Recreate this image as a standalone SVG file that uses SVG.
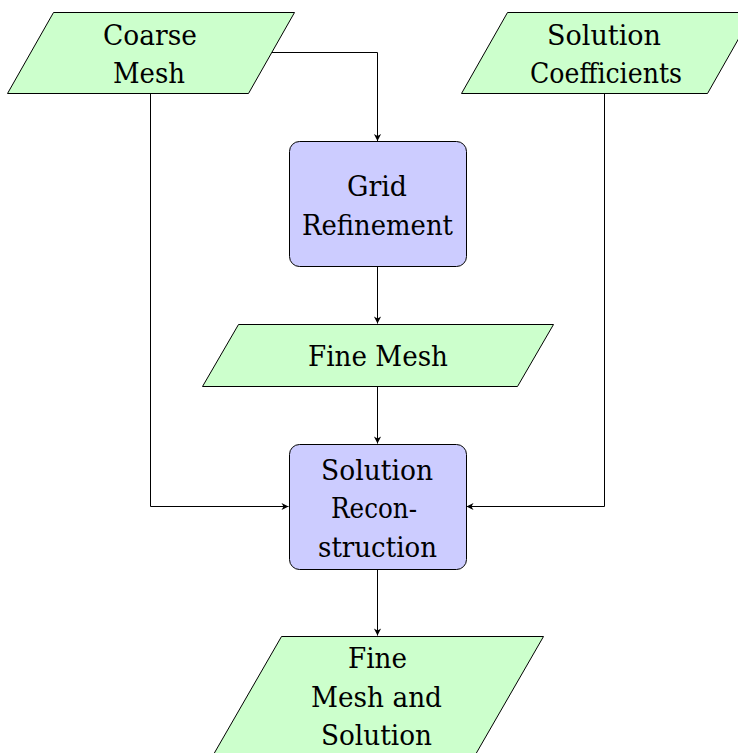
<svg xmlns="http://www.w3.org/2000/svg" width="738" height="753" viewBox="0 0 738 753">
  <style>
    .io { fill: #ccffcc; stroke: #000; stroke-width: 1; stroke-linejoin: miter; }
    .proc { fill: #ccccff; stroke: #000; stroke-width: 1; }
    .lbl { font-family: "DejaVu Serif", serif; font-size: 27px; fill: #000; text-anchor: middle; }
    .edge { fill: none; stroke: #000; stroke-width: 1; marker-end: url(#tip); }
  </style>
  <defs>
    <marker id="tip" markerUnits="userSpaceOnUse" markerWidth="10" markerHeight="10" viewBox="-8 -5 10 10" refX="0" refY="0" orient="auto">
      <path d="M0,0 L-7,-3.6 L-5,0 L-7,3.6 Z" fill="#000"/>
    </marker>
  </defs>
  <rect width="738" height="753" fill="#fff"/>

  <!-- connectors -->
  <g id="edges">
    <path class="edge" d="M271.5,52.5 H377.5 V141"/>
    <path class="edge" d="M377.5,267 V323.5"/>
    <path class="edge" d="M377.5,386 V443.5"/>
    <path class="edge" d="M150.5,93 V506.5 H288.5"/>
    <path class="edge" d="M604.5,93 V506.5 H466.5"/>
    <path class="edge" d="M377.5,569 V635.5"/>
  </g>

  <!-- input: coarse mesh -->
  <g id="coarse-mesh">
    <polygon class="io" points="53.5,12.5 294.5,12.5 248.5,93.5 7.5,93.5"/>
    <text class="lbl" x="150" y="45" textLength="94" lengthAdjust="spacingAndGlyphs">Coarse</text>
    <text class="lbl" x="149" y="83" textLength="72" lengthAdjust="spacingAndGlyphs">Mesh</text>
  </g>

  <!-- input: solution coefficients -->
  <g id="solution-coefficients">
    <polygon class="io" points="507.5,12.5 753.5,12.5 707.5,93.5 461.5,93.5"/>
    <text class="lbl" x="604" y="45" textLength="114" lengthAdjust="spacingAndGlyphs">Solution</text>
    <text class="lbl" x="606" y="83" textLength="152" lengthAdjust="spacingAndGlyphs">Coefficients</text>
  </g>

  <!-- process: grid refinement -->
  <g id="grid-refinement">
    <rect class="proc" x="289.5" y="141.5" width="177" height="125" rx="10" ry="10"/>
    <text class="lbl" x="377" y="196" textLength="60" lengthAdjust="spacingAndGlyphs">Grid</text>
    <text class="lbl" x="377.5" y="235" textLength="151" lengthAdjust="spacingAndGlyphs">Refinement</text>
  </g>

  <!-- data: fine mesh -->
  <g id="fine-mesh">
    <polygon class="io" points="238.5,324.5 553.5,324.5 517.5,386.5 202.5,386.5"/>
    <text class="lbl" x="378" y="366" textLength="140" lengthAdjust="spacingAndGlyphs">Fine Mesh</text>
  </g>

  <!-- process: solution reconstruction -->
  <g id="solution-reconstruction">
    <rect class="proc" x="289.5" y="444.5" width="177" height="125" rx="10" ry="10"/>
    <text class="lbl" x="377" y="480" textLength="112" lengthAdjust="spacingAndGlyphs">Solution</text>
    <text class="lbl" x="374" y="518" textLength="86" lengthAdjust="spacingAndGlyphs">Recon-</text>
    <text class="lbl" x="377.5" y="557" textLength="119" lengthAdjust="spacingAndGlyphs">struction</text>
  </g>

  <!-- output: fine mesh and solution -->
  <g id="fine-mesh-and-solution">
    <polygon class="io" points="281.5,636.5 543.5,636.5 473.5,758 211.5,758"/>
    <text class="lbl" x="377.5" y="668" textLength="59" lengthAdjust="spacingAndGlyphs">Fine</text>
    <text class="lbl" x="376.5" y="707" textLength="131" lengthAdjust="spacingAndGlyphs">Mesh and</text>
    <text class="lbl" x="376.5" y="745" textLength="111" lengthAdjust="spacingAndGlyphs">Solution</text>
  </g>
</svg>
